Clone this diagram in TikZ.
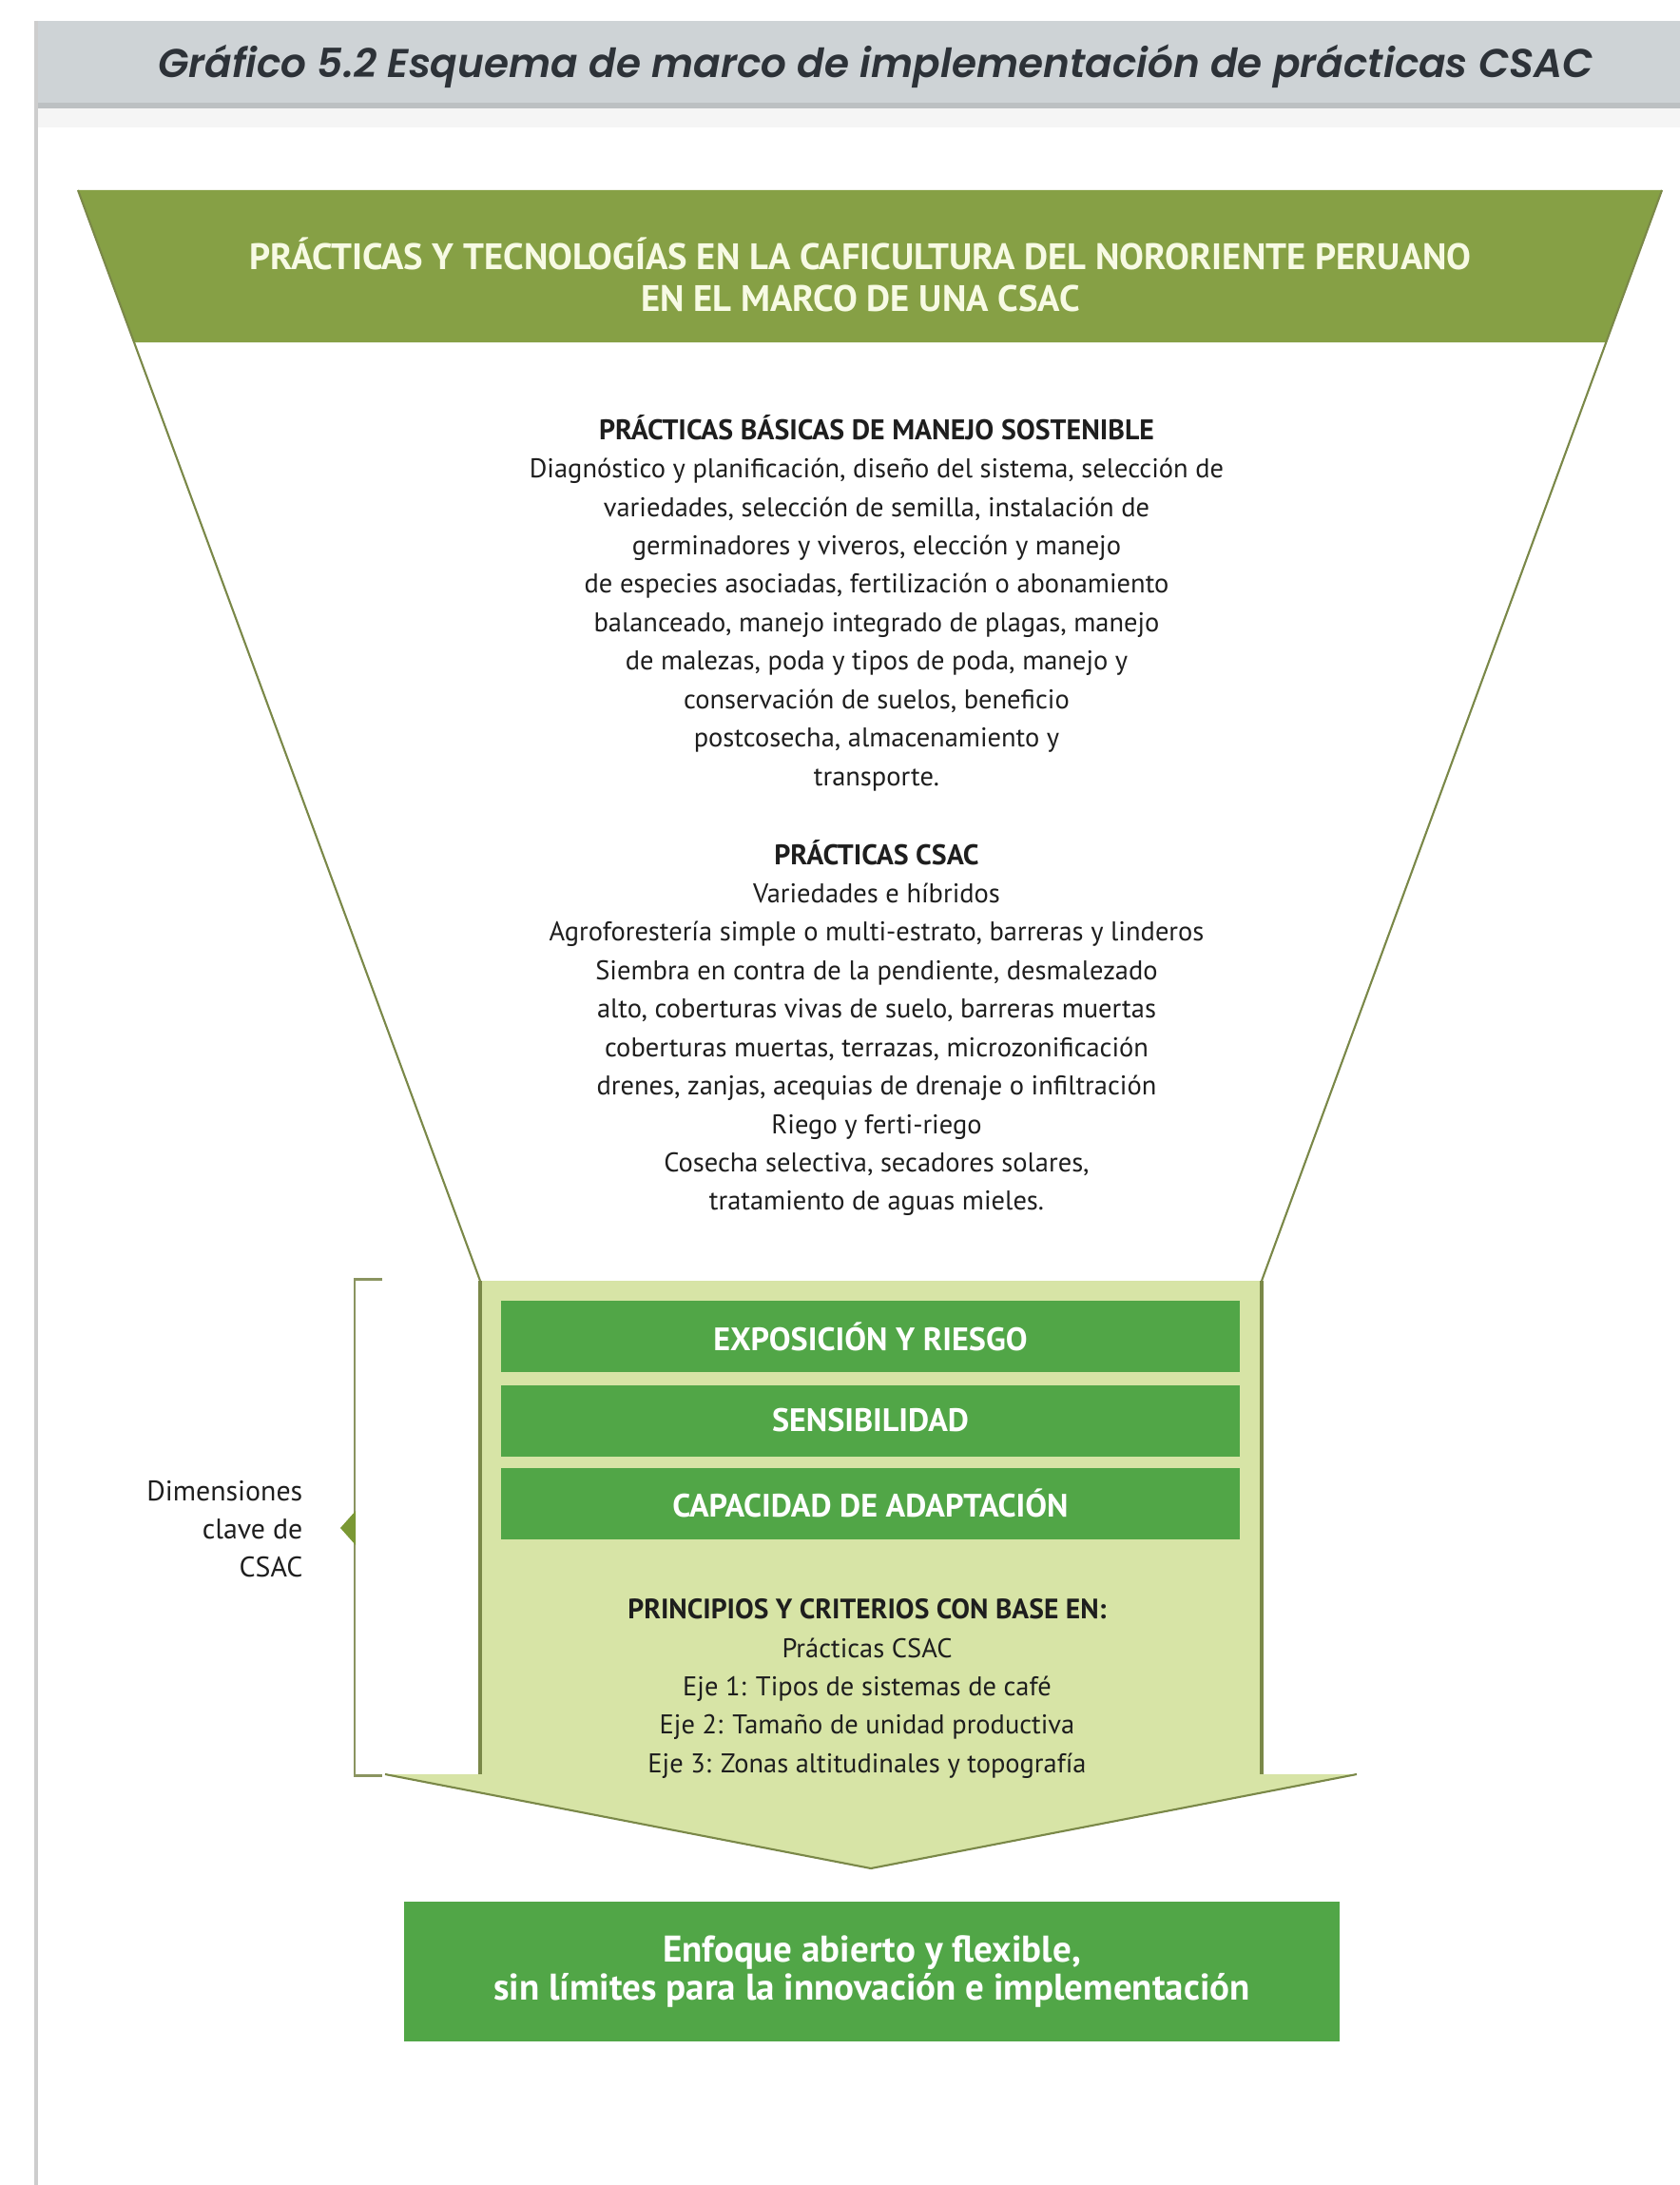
\documentclass[tikz,border=0pt]{standalone}
\usepackage{fontspec}
\setmainfont{PT Sans}
\newfontfamily\titlefont{Poppins SemiBold Italic}
\usetikzlibrary{calc}
\definecolor{bandgray}{RGB}{206,211,214}
\definecolor{bandshade}{RGB}{188,192,194}
\definecolor{bordergray}{RGB}{205,205,205}
\definecolor{titlegray}{RGB}{45,50,56}
\definecolor{olivefill}{RGB}{134,160,69}
\definecolor{oliveline}{RGB}{122,136,72}
\definecolor{cream}{RGB}{247,250,228}
\definecolor{lightgreen}{RGB}{215,228,166}
\definecolor{boxgreen}{RGB}{81,166,71}
\definecolor{bracketolive}{RGB}{138,148,96}
\definecolor{pointerolive}{RGB}{122,152,52}
\definecolor{inkgray}{RGB}{30,30,30}
\begin{document}
\begin{tikzpicture}
    [
        body/.style={align=center, inner sep=0pt, text=inkgray, font=\fontsize{8.1}{11.5}\selectfont},
        dimbox/.style={rectangle, fill=boxgreen, inner sep=0pt, minimum width=7.77cm, minimum height=0.75cm, text=white, font=\fontsize{9.7}{10}\selectfont\bfseries},
        funnelline/.style={draw=oliveline, line width=0.6pt},
    ]
    \useasboundingbox (0,0) rectangle (17.67,-22.98);
    \fill[bandgray] (0.36,-0.22) rectangle (17.67,-1.12);
    \fill[bandshade] (0.36,-1.08) rectangle (17.67,-1.14);
    \fill[black!4] (0.40,-1.14) rectangle (17.67,-1.34);
    \draw[bordergray, line width=1.1pt] (0.38,-0.22) -- (0.38,-22.98);
    \node (title) at (9.21,-0.82) [anchor=base, text=titlegray, font=\titlefont\fontsize{12}{14}\selectfont] {Gráfico 5.2 Esquema de marco de implementación de prácticas CSAC};

    \coordinate (ftl) at (0.82,-2.00);
    \coordinate (ftr) at (17.48,-2.00);
    \coordinate (fbl) at (5.05,-13.47);
    \coordinate (fbr) at (13.27,-13.47);
    \fill[olivefill] (ftl) -- (ftr) -- ($(ftr)!0.1395!(fbr)$) -- ($(ftl)!0.1395!(fbl)$) -- cycle;
    \draw[funnelline] (ftl) -- (fbl);
    \draw[funnelline] (ftr) -- (fbr);
    \node (heading) at (9.05,-2.89) [align=center, text=cream, font=\fontsize{11}{12.5}\selectfont\bfseries] {PRÁCTICAS Y TECNOLOGÍAS EN LA CAFICULTURA DEL NORORIENTE PERUANO\\EN EL MARCO DE UNA CSAC};

    \node (basicas) at (9.22,-6.34) [body] {\fontsize{8.5}{11.5}\selectfont\textbf{PRÁCTICAS BÁSICAS DE MANEJO SOSTENIBLE}\\
        Diagnóstico y planificación, diseño del sistema, selección de\\
        variedades, selección de semilla, instalación de\\
        germinadores y viveros, elección y manejo\\
        de especies asociadas, fertilización o abonamiento\\
        balanceado, manejo integrado de plagas, manejo\\
        de malezas, poda y tipos de poda, manejo y\\
        conservación de suelos, beneficio\\
        postcosecha, almacenamiento y\\
        transporte.};
    \node (csac) at (9.22,-10.81) [body] {\fontsize{8.5}{11.5}\selectfont\textbf{PRÁCTICAS CSAC}\\
        Variedades e híbridos\\
        Agroforestería simple o multi-estrato, barreras y linderos\\
        Siembra en contra de la pendiente, desmalezado\\
        alto, coberturas vivas de suelo, barreras muertas\\
        coberturas muertas, terrazas, microzonificación\\
        drenes, zanjas, acequias de drenaje o infiltración\\
        Riego y ferti-riego\\
        Cosecha selectiva, secadores solares,\\
        tratamiento de aguas mieles.};

    \fill[lightgreen] (fbl) -- (5.05,-18.66) -- (4.05,-18.66) -- (9.16,-19.65) -- (14.27,-18.66) -- (13.27,-18.66) -- (fbr) -- cycle;
    \draw[funnelline, line width=0.9pt] (fbl) -- (5.05,-18.66);
    \draw[funnelline, line width=0.9pt] (fbr) -- (13.27,-18.66);
    \draw[funnelline] (4.05,-18.66) -- (9.16,-19.65) -- (14.27,-18.66);

    \node (expo) at (9.155,-14.055) [dimbox] {EXPOSICIÓN Y RIESGO};
    \node (sens) at (9.155,-14.94) [dimbox] {SENSIBILIDAD};
    \node (capa) at (9.155,-15.81) [dimbox] {CAPACIDAD DE ADAPTACIÓN};
    \node (principios) at (9.12,-17.76) [body] {\fontsize{8.4}{11.5}\selectfont\textbf{PRINCIPIOS Y CRITERIOS CON BASE EN:}\\
        Prácticas CSAC\\
        Eje 1: Tipos de sistemas de café\\
        Eje 2: Tamaño de unidad productiva\\
        Eje 3: Zonas altitudinales y topografía};

    \draw[bracketolive, line width=0.85pt] (4.02,-13.45) -- (3.73,-13.45) -- (3.73,-18.67) -- (4.02,-18.67);
    \fill[pointerolive] (3.58,-16.07) -- (3.74,-15.89) -- (3.74,-16.25) -- cycle;
    \node (dimlabel) at (3.19,-16.08) [anchor=east, align=right, inner sep=0pt, text=inkgray, font=\fontsize{8.5}{11.4}\selectfont] {Dimensiones\\clave de\\CSAC};

    \node (enfoque) at (9.17,-20.735) [rectangle, fill=boxgreen, inner sep=0pt, minimum width=9.84cm, minimum height=1.47cm, align=center, text=white, font=\fontsize{11.1}{11.2}\selectfont\bfseries] {Enfoque abierto y flexible,\\sin límites para la innovación e implementación};
\end{tikzpicture}
\end{document}
